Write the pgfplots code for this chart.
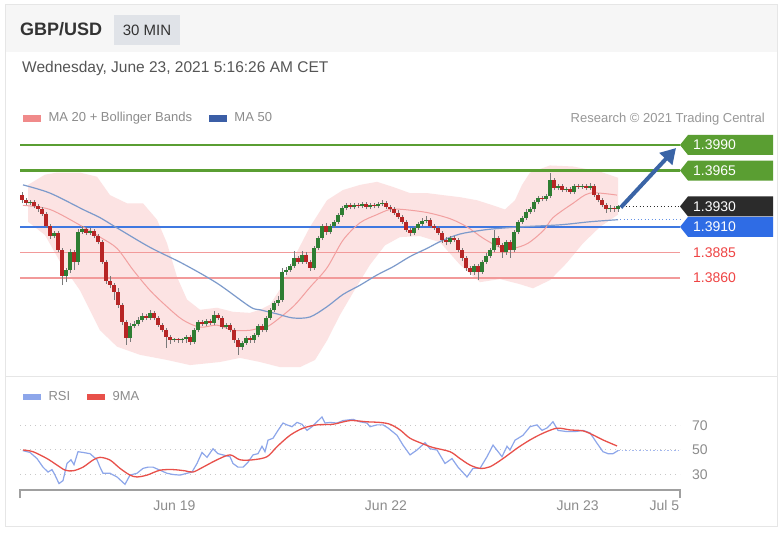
\documentclass[border=0pt]{standalone}
\usepackage{fontspec}
\setmainfont{Liberation Sans}
\usepackage{pgfplots}
\pgfplotsset{compat=1.18}
\usepackage{pgfplotstable}
\usetikzlibrary{arrows.meta}

\definecolor{cardborder}{HTML}{E6E6E6}
\definecolor{headerbg}{HTML}{F6F6F6}
\definecolor{tfbox}{HTML}{E0E3E8}
\definecolor{txtdark}{HTML}{333333}
\definecolor{txtmid}{HTML}{555555}
\definecolor{txtlight}{HTML}{8C8C8C}
\definecolor{lvgreen}{HTML}{5A9E32}
\definecolor{lvblue}{HTML}{3F78E0}
\definecolor{lvred}{HTML}{F29A9A}
\definecolor{lvredtxt}{HTML}{EF4444}
\definecolor{tagblack}{HTML}{2B2B2B}
\definecolor{tagblue}{HTML}{2F6CE5}
\definecolor{bbfill}{HTML}{FCE3E3}
\definecolor{ma20}{HTML}{F2A0A0}
\definecolor{ma50}{HTML}{7C9ACB}
\definecolor{ma50leg}{HTML}{3B5EA6}
\definecolor{ma20leg}{HTML}{F08A8A}
\definecolor{cup}{HTML}{2E7D32}
\definecolor{cdown}{HTML}{B72525}
\definecolor{wick}{HTML}{7A7A7A}
\definecolor{arrowblue}{HTML}{3A64A6}
\definecolor{rsiblue}{HTML}{8DA6EA}
\definecolor{rsired}{HTML}{E8504A}
\definecolor{gridgray}{HTML}{C8C8C8}
\definecolor{axisgray}{HTML}{A0A0A0}

\newcommand{\leveltag}[3]{%
  \fill[#2] (axis cs:164.5,#1) -- ++(8pt,10pt) -- ++(85pt,0pt) -- ++(0pt,-20pt) -- ++(-85pt,0pt) -- cycle;
  \node[anchor=west, text=white, inner sep=0pt, font=\fontsize{14}{16}\selectfont] at ([xshift=13pt]axis cs:164.5,#1) {#3};
}

\pgfplotstableread{
x o h l c
0 1.3941 1.3944 1.3933 1.3936
1 1.3936 1.3938 1.3931 1.3933
2 1.3933 1.3936 1.3931 1.3934
3 1.3934 1.3936 1.3928 1.3930
4 1.3930 1.3932 1.3925 1.3927
5 1.3927 1.3929 1.3921 1.3923
6 1.3923 1.3925 1.3909 1.3911
7 1.3911 1.3913 1.3898 1.3901
8 1.3901 1.3906 1.3899 1.3904
9 1.3904 1.3906 1.3885 1.3887
10 1.3887 1.3889 1.3853 1.3862
11 1.3862 1.3870 1.3856 1.3868
12 1.3868 1.3888 1.3865 1.3885
13 1.3885 1.3887 1.3868 1.3876
14 1.3876 1.3908 1.3873 1.3905
15 1.3905 1.3911 1.3903 1.3908
16 1.3908 1.3910 1.3902 1.3904
17 1.3904 1.3909 1.3902 1.3906
18 1.3906 1.3908 1.3899 1.3901
19 1.3901 1.3903 1.3893 1.3895
20 1.3895 1.3897 1.3874 1.3876
21 1.3876 1.3878 1.3854 1.3857
22 1.3857 1.3862 1.3850 1.3853
23 1.3853 1.3855 1.3839 1.3846
24 1.3846 1.3850 1.3831 1.3834
25 1.3834 1.3836 1.3814 1.3817
26 1.3817 1.3819 1.3795 1.3801
27 1.3801 1.3816 1.3798 1.3813
28 1.3813 1.3818 1.3811 1.3815
29 1.3815 1.3822 1.3813 1.3819
30 1.3819 1.3826 1.3817 1.3823
31 1.3823 1.3825 1.3819 1.3821
32 1.3821 1.3829 1.3819 1.3826
33 1.3826 1.3828 1.3819 1.3821
34 1.3821 1.3823 1.3812 1.3814
35 1.3814 1.3816 1.3807 1.3809
36 1.3809 1.3811 1.3792 1.3802
37 1.3802 1.3804 1.3796 1.3799
38 1.3799 1.3801 1.3798 1.3800
39 1.3800 1.3801 1.3797 1.3799
40 1.3799 1.3801 1.3797 1.3800
41 1.3800 1.3804 1.3797 1.3802
42 1.3802 1.3804 1.3795 1.3798
43 1.3798 1.3811 1.3796 1.3809
44 1.3809 1.3819 1.3807 1.3817
45 1.3817 1.3819 1.3813 1.3815
46 1.3815 1.3820 1.3813 1.3818
47 1.3818 1.3820 1.3814 1.3816
48 1.3816 1.3828 1.3814 1.3824
49 1.3824 1.3826 1.3819 1.3821
50 1.3821 1.3823 1.3810 1.3812
51 1.3812 1.3816 1.3810 1.3814
52 1.3814 1.3816 1.3807 1.3809
53 1.3809 1.3811 1.3797 1.3799
54 1.3799 1.3801 1.3785 1.3793
55 1.3793 1.3799 1.3790 1.3797
56 1.3797 1.3803 1.3795 1.3801
57 1.3801 1.3803 1.3797 1.3799
58 1.3799 1.3806 1.3797 1.3804
59 1.3804 1.3815 1.3802 1.3813
60 1.3813 1.3815 1.3807 1.3809
61 1.3809 1.3823 1.3807 1.3821
62 1.3821 1.3831 1.3819 1.3829
63 1.3829 1.3838 1.3827 1.3836
64 1.3836 1.3842 1.3833 1.3839
65 1.3839 1.3870 1.3837 1.3866
66 1.3866 1.3871 1.3863 1.3868
67 1.3868 1.3874 1.3866 1.3872
68 1.3872 1.3886 1.3870 1.3880
69 1.3880 1.3882 1.3874 1.3876
70 1.3876 1.3886 1.3874 1.3883
71 1.3883 1.3885 1.3874 1.3876
72 1.3876 1.3878 1.3867 1.3870
73 1.3870 1.3891 1.3868 1.3889
74 1.3889 1.3901 1.3887 1.3899
75 1.3899 1.3913 1.3897 1.3911
76 1.3911 1.3914 1.3902 1.3905
77 1.3905 1.3913 1.3903 1.3911
78 1.3911 1.3917 1.3909 1.3915
79 1.3915 1.3924 1.3913 1.3922
80 1.3922 1.3930 1.3920 1.3928
81 1.3928 1.3933 1.3926 1.3931
82 1.3931 1.3933 1.3927 1.3929
83 1.3929 1.3933 1.3927 1.3931
84 1.3931 1.3933 1.3928 1.3930
85 1.3930 1.3934 1.3928 1.3932
86 1.3932 1.3934 1.3927 1.3929
87 1.3929 1.3933 1.3927 1.3931
88 1.3931 1.3933 1.3928 1.3930
89 1.3930 1.3934 1.3928 1.3932
90 1.3932 1.3936 1.3930 1.3933
91 1.3933 1.3935 1.3927 1.3929
92 1.3929 1.3931 1.3925 1.3927
93 1.3927 1.3929 1.3922 1.3924
94 1.3924 1.3926 1.3918 1.3920
95 1.3920 1.3922 1.3913 1.3915
96 1.3915 1.3917 1.3905 1.3907
97 1.3907 1.3909 1.3901 1.3904
98 1.3904 1.3911 1.3902 1.3909
99 1.3909 1.3915 1.3907 1.3913
100 1.3913 1.3919 1.3911 1.3916
101 1.3916 1.3921 1.3914 1.3917
102 1.3917 1.3919 1.3909 1.3911
103 1.3911 1.3913 1.3907 1.3909
104 1.3909 1.3911 1.3902 1.3904
105 1.3904 1.3906 1.3894 1.3897
106 1.3897 1.3900 1.3892 1.3895
107 1.3895 1.3901 1.3893 1.3899
108 1.3899 1.3901 1.3895 1.3897
109 1.3897 1.3899 1.3885 1.3887
110 1.3887 1.3889 1.3877 1.3880
111 1.3880 1.3882 1.3867 1.3870
112 1.3870 1.3872 1.3863 1.3866
113 1.3866 1.3874 1.3863 1.3872
114 1.3872 1.3874 1.3858 1.3866
115 1.3866 1.3878 1.3864 1.3876
116 1.3876 1.3884 1.3874 1.3882
117 1.3882 1.3889 1.3880 1.3887
118 1.3887 1.3907 1.3885 1.3899
119 1.3899 1.3901 1.3890 1.3892
120 1.3892 1.3894 1.3880 1.3885
121 1.3885 1.3897 1.3883 1.3895
122 1.3895 1.3897 1.3880 1.3887
123 1.3887 1.3907 1.3885 1.3905
124 1.3905 1.3917 1.3903 1.3915
125 1.3915 1.3921 1.3913 1.3919
126 1.3919 1.3927 1.3917 1.3925
127 1.3925 1.3929 1.3923 1.3927
128 1.3927 1.3936 1.3925 1.3934
129 1.3934 1.3940 1.3932 1.3938
130 1.3938 1.3940 1.3935 1.3937
131 1.3937 1.3942 1.3935 1.3940
132 1.3940 1.3963 1.3938 1.3956
133 1.3956 1.3958 1.3946 1.3948
134 1.3948 1.3952 1.3946 1.3950
135 1.3950 1.3952 1.3944 1.3946
136 1.3946 1.3949 1.3944 1.3947
137 1.3947 1.3949 1.3942 1.3944
138 1.3944 1.3952 1.3942 1.3950
139 1.3950 1.3952 1.3947 1.3949
140 1.3949 1.3952 1.3947 1.3950
141 1.3950 1.3952 1.3946 1.3948
142 1.3948 1.3953 1.3946 1.3950
143 1.3950 1.3952 1.3939 1.3941
144 1.3941 1.3943 1.3934 1.3936
145 1.3936 1.3938 1.3929 1.3931
146 1.3931 1.3933 1.3924 1.3927
147 1.3927 1.3931 1.3925 1.3928
148 1.3928 1.3930 1.3925 1.3927
149 1.3927 1.3931 1.3925 1.3930
}\candles

\begin{document}
\begin{tikzpicture}
\useasboundingbox (0,0) rectangle (781pt,535pt);
\fill[white] (0,0) rectangle (781pt,535pt);
\fill[headerbg] (5pt,483pt) rectangle (777pt,530pt);
\draw[cardborder, line width=1pt] (5pt,9pt) rectangle (777pt,530pt);
\draw[cardborder, line width=1pt] (5pt,158pt) -- (777pt,158pt);
\fill[tfbox] (114pt,490pt) rectangle (180pt,520pt);
\node[anchor=base, inner sep=0pt, text=txtdark, font=\fontsize{15}{17}\selectfont] at (147pt,499pt) {30 MIN};
\node[anchor=base west, inner sep=0pt, text=txtdark, font=\bfseries\fontsize{18}{20}\selectfont] at (20pt,499pt) {GBP/USD};
\node[anchor=base west, inner sep=0pt, text=txtmid, font=\fontsize{15.5}{18}\selectfont] at (22pt,462pt) {Wednesday, June 23, 2021 5:16:26 AM CET};
\node[anchor=base east, inner sep=0pt, text=txtlight!90, font=\fontsize{13}{15}\selectfont] at (765pt,412.5pt) {Research © 2021 Trading Central};

% ---------------- main price panel ----------------
\begin{axis}[
  at={(20pt,160pt)}, anchor=south west,
  width=660pt, height=242pt, scale only axis,
  xmin=-0.5, xmax=164.5, ymin=1.37653, ymax=1.40017,
  axis lines=none, xtick=\empty, ytick=\empty, clip=false,
  legend columns=2,
  legend image code/.code={\fill[#1] (0pt,-3pt) rectangle (17pt,3pt);},
  legend style={at={(0,1)}, anchor=west, xshift=3pt, yshift=15pt,
    draw=none, fill=none, inner sep=0pt,
    font=\fontsize{13}{15}\selectfont, text=txtlight,
    nodes={inner sep=0pt},
    /tikz/every odd column/.append style={column sep=8pt},
    /tikz/every even column/.append style={column sep=17pt}},
]
\addlegendimage{ma20leg}
\addlegendentry{MA 20 + Bollinger Bands}
\addlegendimage{ma50leg}
\addlegendentry{MA 50}

% Bollinger band: upper band left to right, then lower band right to left
\addplot[fill=bbfill, draw=none, forget plot] coordinates {
(1.5,1.3951) (5.75,1.3961) (8.75,1.3963) (14.5,1.3963) (18.75,1.3959) (22,1.3941) (26.25,1.3933) (30.25,1.3933) (33.75,1.3917) (36.25,1.3894) (38.75,1.3861) (41.25,1.3839) (44.5,1.3829) (48.75,1.3831) (52.75,1.3827) (57,1.3826) (59.5,1.3829) (62,1.3834) (64.5,1.3849) (67.75,1.3878) (72,1.3910) (76.25,1.3936) (80.25,1.3946) (84.5,1.3951) (88.75,1.3954) (92.75,1.3949) (97,1.3943) (101.25,1.3943) (105.25,1.3941) (109.5,1.3939) (113.75,1.3936) (117.75,1.3931) (120.75,1.3927) (123.25,1.3936) (125,1.3951) (127,1.3963) (132,1.3970) (137.75,1.3969) (144.5,1.3964) (149,1.3958)
(149,1.3922) (144.5,1.3910) (140.25,1.3894) (136.25,1.3875) (132,1.3858) (127.75,1.3850) (124.5,1.3854) (119.5,1.3859) (114.5,1.3856) (109.5,1.3873) (104.5,1.3895) (99.5,1.3901) (94.5,1.3900) (90.75,1.3892) (87,1.3873) (83.25,1.3849) (79.5,1.3824) (76.25,1.3799) (73.25,1.3780) (69.5,1.3773) (64.5,1.3773) (59.5,1.3778) (54.5,1.3782) (49.5,1.3778) (42,1.3775) (36.25,1.3780) (29.5,1.3785) (23.75,1.3793) (19.5,1.3809) (14.5,1.3848) (9.5,1.3876) (5.75,1.3902) (1.5,1.3915)} -- cycle;

% levels
\addplot[lvgreen, line width=2.5pt, forget plot] coordinates {(-0.5,1.3990) (164.5,1.3990)};
\addplot[lvgreen, line width=2.5pt, forget plot] coordinates {(-0.5,1.3965) (164.5,1.3965)};
\addplot[lvblue, line width=2.5pt, forget plot] coordinates {(-0.5,1.3910) (164.5,1.3910)};
\addplot[lvred, line width=1.2pt, forget plot] coordinates {(-0.5,1.3885) (164.5,1.3885)};
\addplot[lvred, line width=1.2pt, forget plot] coordinates {(-0.5,1.3860) (164.5,1.3860)};

% moving averages
\addplot[ma20, line width=1pt, smooth, forget plot] coordinates {
(0.25,1.3931) (7,1.3927) (15.25,1.3910) (19.5,1.3900) (23.75,1.3889) (27.75,1.3868) (32,1.3848) (36.25,1.3832) (40.25,1.3819) (44.5,1.3812) (48.75,1.3814) (52.75,1.3809) (57,1.3809) (60,1.3812) (62,1.3814) (67.75,1.3832) (72,1.3851) (76.25,1.3870) (80.25,1.3897) (84.5,1.3914) (88.75,1.3922) (92,1.3927) (95.25,1.3927) (101.25,1.3924) (107,1.3918) (111.25,1.3910) (115.25,1.3899) (119.5,1.3890) (122.75,1.3889) (126.5,1.3894) (130.5,1.3907) (132.75,1.3919) (137.75,1.3933) (142,1.3943) (148.75,1.3941)};
\addplot[ma50, line width=1.2pt, smooth, forget plot] coordinates {
(0.25,1.3951) (7,1.3943) (15.25,1.3927) (19.5,1.3919) (23.75,1.3909) (32,1.3890) (40.25,1.3874) (48.75,1.3855) (57,1.3832) (59.5,1.3829) (63.75,1.3825) (67.75,1.3821) (72,1.3822) (76.25,1.3832) (80.25,1.3844) (84.5,1.3853) (88.75,1.3863) (92.75,1.3871) (97,1.3881) (101.25,1.3889) (105.25,1.3897) (109.5,1.3903) (113.75,1.3906) (117.75,1.3908) (124.5,1.3910) (134.5,1.3912) (142,1.3915) (149,1.3917)};

% candles: wicks (low to high)
\addplot[draw=none, mark=none, forget plot,
  error bars/.cd, y dir=plus, y explicit, error mark=none,
  error bar style={draw=wick, line width=1pt}]
  table[x=x, y=l, y error expr=\thisrow{h}-\thisrow{l}] {\candles};
% candles: rising bodies (open up to close)
\addplot[draw=none, mark=none, forget plot,
  error bars/.cd, y dir=plus, y explicit, error mark=none,
  error bar style={draw=cup, line width=3.2pt}]
  table[x=x, y=o, y error expr={max(\thisrow{c}-\thisrow{o},0)}] {\candles};
% candles: falling bodies (open down to close)
\addplot[draw=none, mark=none, forget plot,
  error bars/.cd, y dir=minus, y explicit, error mark=none,
  error bar style={draw=cdown, line width=3.2pt}]
  table[x=x, y=o, y error expr={max(\thisrow{o}-\thisrow{c},0)}] {\candles};

% dotted extensions
\addplot[tagblack, line width=1pt, dash pattern=on 1pt off 2.5pt, forget plot] coordinates {(150,1.3930) (164.5,1.3930)};
\addplot[lvblue!80, line width=1pt, dash pattern=on 1pt off 2.5pt, forget plot] coordinates {(149.5,1.3917) (164.5,1.3917)};

% arrow
\draw[arrowblue, line width=4pt, -{Triangle[length=15pt,width=17pt]}] (axis cs:149.7,1.3929) -- (axis cs:163.5,1.3987);

% tags
\leveltag{1.3990}{lvgreen}{1.3990}
\leveltag{1.3965}{lvgreen}{1.3965}
\leveltag{1.3930}{tagblack}{1.3930}
\leveltag{1.3910}{tagblue}{1.3910}
\node[anchor=west, text=lvredtxt, inner sep=0pt, font=\fontsize{14}{16}\selectfont] at ([xshift=13pt]axis cs:164.5,1.3885) {1.3885};
\node[anchor=west, text=lvredtxt, inner sep=0pt, font=\fontsize{14}{16}\selectfont] at ([xshift=13pt]axis cs:164.5,1.3860) {1.3860};
\end{axis}

% ---------------- RSI panel ----------------
\begin{axis}[
  at={(20pt,45pt)}, anchor=south west,
  width=660pt, height=90pt, scale only axis,
  xmin=-0.5, xmax=164.5, ymin=17.35, ymax=90.8,
  axis line style={draw=none},
  major tick length=0pt, tick style={draw=none},
  ytick={30,50,70}, yticklabel pos=right,
  yticklabel style={anchor=west, inner sep=0pt, xshift=12pt, font=\fontsize{14}{16}\selectfont, text=txtlight},
  ymajorgrids, grid style={gridgray, line width=1pt, dash pattern=on 1pt off 4pt},
  xtick={38.1,91,138.9,160.6},
  xticklabels={Jun 19, Jun 22, Jun 23, Jul 5},
  xticklabel style={anchor=base, inner sep=0pt, yshift=-20.7pt, font=\fontsize{14}{16}\selectfont, text=txtlight},
  /pgf/number format/assume math mode=true,
  clip=false,
  legend columns=2,
  legend image code/.code={\fill[#1] (0pt,-2.5pt) rectangle (17pt,2.5pt);},
  legend style={at={(0,1)}, anchor=west, xshift=3pt, yshift=3pt,
    draw=none, fill=none, inner sep=0pt,
    font=\fontsize{13}{15}\selectfont, text=txtlight,
    nodes={inner sep=0pt},
    /tikz/every odd column/.append style={column sep=8pt},
    /tikz/every even column/.append style={column sep=17pt}},
]
\addlegendimage{rsiblue}
\addlegendentry{RSI}
\addlegendimage{rsired}
\addlegendentry{9MA}

\addplot[rsiblue, line width=1.2pt, forget plot] coordinates {
(0.2,49.5) (2,48) (3.75,43) (5.25,36) (6.5,32) (7.5,34) (8.25,29.5) (9.25,22.6) (10.25,25) (11.25,39) (12.25,42) (13,38) (14,48.6) (15.25,48) (17,47) (18.75,42) (19.5,36) (20.25,31) (22,31) (23.75,28) (25.75,22) (27,29.5) (28.75,31) (30.25,35) (31.5,36) (32.75,36) (34.5,33.5) (36.25,31) (37.75,30) (39.5,29.5) (41.25,31) (42.5,32) (43.75,39) (45,48) (46.25,44) (47.75,51) (49,47) (50.25,46) (52,44.5) (52.75,39) (54,36) (55.25,36) (56.5,40) (57.75,46) (59,47) (60,53) (60.75,48.6) (61.5,58) (62.75,59.6) (64,66) (65.25,72) (66.25,70.5) (67.5,69) (68.75,72.5) (70,71) (71.25,66) (72.5,69) (73.75,73) (75,77) (75.75,72) (77,72.5) (78.75,72) (80.25,74) (82.75,75) (84.5,73) (86.25,72) (87,69) (88.75,70.5) (90.25,70.5) (91.5,68) (93.75,62) (95.25,54) (97,46) (98.75,50) (100.75,56) (102,51) (103.75,50) (105.75,39) (107.5,43) (109,36) (111.25,28) (112.75,35) (114.5,35) (116.25,44.5) (117.75,54) (120,44.5) (121.25,53) (122,50) (123.25,58) (125.25,62) (127,69) (128.75,70.5) (130,66) (131.25,68) (132.75,73) (134,66) (136.25,65) (138.25,65) (140.25,66) (142,64) (143.75,55.5) (145.25,48.6) (146.5,47) (147.75,47) (149,49.5)};
\addplot[rsired, line width=1.3pt, smooth, forget plot] coordinates {
(0.25,50) (2.75,48.6) (6.25,43) (8.75,37.7) (10.75,33.6) (12.75,33) (15.25,36) (17.75,41.8) (19.5,44) (22,41.8) (24.5,35) (27,29.5) (28.75,28) (31.25,29.5) (34.5,33.5) (37.75,34) (40.75,33) (42.75,32) (45.25,36) (48.75,42) (52,46) (54.5,42) (57.75,42) (61.25,44.5) (63.75,52.7) (67,62) (70.25,67.8) (73.75,70.5) (77.75,71) (82,74) (86.25,73) (89.5,72.5) (92,71) (94.5,66.4) (97,59.6) (100.25,55) (102.75,52) (107,48.6) (109.5,43) (112,37.7) (114.5,35) (117,36.3) (120.25,43) (123.75,51.4) (127,58.2) (130.25,63.7) (133.75,67.8) (137,66.4) (140.25,65.6) (142.75,62.3) (145.25,58.2) (148.75,53.3)};
\addplot[rsiblue!80, line width=1pt, dash pattern=on 1.5pt off 2pt, forget plot] coordinates {(149,49.5) (164.5,49.5)};

\draw[axisgray, line width=1.8pt] ([yshift=-8pt]rel axis cs:0,0) -- (rel axis cs:0,0) -- (rel axis cs:1,0) -- ([yshift=-8pt]rel axis cs:1,0);
\end{axis}
\end{tikzpicture}
\end{document}
